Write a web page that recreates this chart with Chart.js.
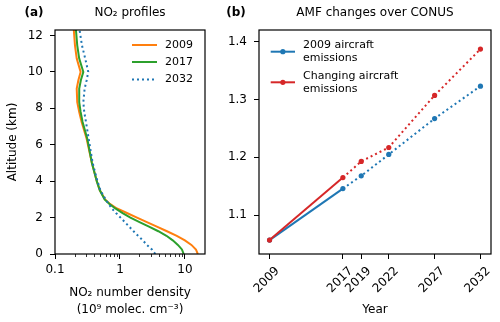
<!DOCTYPE html>
<html>
<head>
<meta charset="utf-8">
<script src="https://cdn.jsdelivr.net/npm/chart.js@4.4.1/dist/chart.umd.min.js"></script>
<style>
  html, body { margin: 0; padding: 0; background: #fff; }
  #wrap { position: relative; width: 500px; height: 322px; overflow: hidden; }
  #wrap canvas { position: absolute; top: 0; }
  #profileChart { left: 0; }
  #amfChart { left: 210px; }
</style>
</head>
<body>
<div id="wrap">
  <canvas id="profileChart" width="250" height="322"></canvas>
  <canvas id="amfChart" width="290" height="322"></canvas>
</div>
<script>
// (a) NO2 profiles: altitude (km) vs number density (1e9 molec/cm3)
const altitudes = [0, 0.25, 0.5, 0.75, 1, 1.25, 1.5, 1.75, 2, 2.25, 2.5, 2.75, 3, 3.5, 4, 5,
  6.33, 7.25, 7.8, 8.34, 9.08, 9.54, 10, 10.73, 11.46, 12.5];
const no2_2009 = [15.8, 14.8, 12.6, 10, 7.5, 5.3, 3.7, 2.6, 1.83, 1.28, 0.9, 0.7, 0.59, 0.49, 0.44, 0.37,
  0.307, 0.257, 0.236, 0.22, 0.216, 0.229, 0.248, 0.216, 0.203, 0.193];
const no2_2017 = [9.6, 9.0, 7.8, 6.5, 5.2, 3.9, 2.8, 2.0, 1.45, 1.1, 0.85, 0.69, 0.58, 0.49, 0.44, 0.37,
  0.314, 0.266, 0.248, 0.236, 0.236, 0.25, 0.273, 0.236, 0.22, 0.208];
const no2_2032 = [3.5, 3.1, 2.6, 2.25, 1.9, 1.62, 1.39, 1.19, 1.02, 0.87, 0.75, 0.67, 0.6, 0.5, 0.45, 0.38,
  0.33, 0.3, 0.282, 0.273, 0.286, 0.307, 0.325, 0.292, 0.26, 0.234];
const densityTicks = [0.1, 1, 10];
const densityTickLabels = ['0.1', '1', '10'];
const densityMinorTicks = [0.2, 0.3, 0.4, 0.5, 0.6, 0.7, 0.8, 0.9, 2, 3, 4, 5, 6, 7, 8, 9];
const altitudeTicks = [0, 2, 4, 6, 8, 10, 12];

// (b) AMF changes over CONUS
const years = [2009, 2017, 2019, 2022, 2027, 2032];
const amf2009Aircraft = [1.057, 1.146, 1.168, 1.205, 1.267, 1.323];
const amfChangingAircraft = [1.057, 1.165, 1.193, 1.217, 1.307, 1.387];
const amfTicks = [1.1, 1.2, 1.3, 1.4];
const amfTickLabels = ['1.1', '1.2', '1.3', '1.4'];

const FONT = "'DejaVu Sans', sans-serif";
const DOTS = [2, 3];

function toPoints(xs, ys) {
  return xs.map((x, i) => ({ x: x, y: ys[i] }));
}

// frame, panel title, legend and minor ticks drawn on top of the data
const panelPlugin = {
  id: 'panel',
  afterDatasetsDraw(chart, args, opts) {
    const ctx = chart.ctx;
    const a = chart.chartArea;
    ctx.save();
    ctx.strokeStyle = '#000';
    if (opts.minorTicks) {
      const sx = chart.scales.x;
      ctx.lineWidth = 0.8;
      opts.minorTicks.forEach(v => {
        const px = Math.round(sx.getPixelForValue(v)) + 0.5;
        ctx.beginPath();
        ctx.moveTo(px, a.bottom);
        ctx.lineTo(px, a.bottom + 3);
        ctx.stroke();
      });
    }
    ctx.lineWidth = 1.2;
    ctx.strokeRect(a.left, a.top, a.right - a.left, a.bottom - a.top);

    ctx.fillStyle = '#000';
    ctx.textBaseline = 'middle';
    ctx.textAlign = 'center';
    ctx.font = '12px ' + FONT;
    ctx.fillText(opts.title, (a.left + a.right) / 2, 13);
    ctx.font = 'bold 12px ' + FONT;
    ctx.fillText(opts.letter, opts.letterX, 13);

    // legend
    const lg = opts.legend;
    ctx.font = '11px ' + FONT;
    ctx.textAlign = 'left';
    chart.data.datasets.forEach((ds, i) => {
      const y = lg.rows[i];
      ctx.strokeStyle = ds.borderColor;
      ctx.lineWidth = ds.borderWidth;
      ctx.setLineDash(ds.borderDash || []);
      ctx.beginPath();
      ctx.moveTo(lg.x0, y);
      ctx.lineTo(lg.x1, y);
      ctx.stroke();
      ctx.setLineDash([]);
      if (ds.pointRadius > 0) {
        ctx.fillStyle = ds.borderColor;
        ctx.beginPath();
        ctx.arc((lg.x0 + lg.x1) / 2, y, ds.pointRadius, 0, Math.PI * 2);
        ctx.fill();
      }
      ctx.fillStyle = '#000';
      const lines = Array.isArray(ds.label) ? ds.label : [ds.label];
      lines.forEach((t, k) => {
        ctx.fillText(t, lg.textX, y - (lines.length - 1) * lg.gap / 2 + k * lg.gap);
      });
    });
    ctx.restore();
  }
};

function tickFont() { return { family: FONT, size: 12 }; }
function titleFont() { return { family: FONT, size: 12, lineHeight: 1.4 }; }

const profileChart = new Chart(document.getElementById('profileChart'), {
  type: 'line',
  data: {
    datasets: [
      { label: '2009', data: toPoints(no2_2009, altitudes), borderColor: '#ff7f0e', borderWidth: 2, pointRadius: 0, order: 2 },
      { label: '2017', data: toPoints(no2_2017, altitudes), borderColor: '#2ca02c', borderWidth: 2, pointRadius: 0, order: 1 },
      { label: '2032', data: toPoints(no2_2032, altitudes), borderColor: '#1f77b4', borderWidth: 2, borderDash: DOTS, pointRadius: 0, order: 0 }
    ]
  },
  options: {
    responsive: false,
    animation: false,
    layout: { padding: { top: 30, right: 45, left: 0, bottom: 0 } },
    plugins: {
      legend: { display: false },
      tooltip: { enabled: false },
      panel: {
        title: 'NO₂ profiles', letter: '(a)', letterX: 34,
        minorTicks: densityMinorTicks,
        legend: { x0: 132, x1: 157, textX: 165, rows: [45, 62, 79.5], gap: 13 }
      }
    },
    scales: {
      x: {
        type: 'logarithmic', min: 0.1, max: 20.4,
        afterBuildTicks: s => { s.ticks = densityTicks.map(v => ({ value: v })); },
        afterFit: s => { s.height = 68; },
        grid: { drawOnChartArea: false, tickLength: 5, tickColor: '#000', tickWidth: 1 },
        border: { display: false },
        ticks: { color: '#000', font: tickFont(), padding: 4, maxRotation: 0, autoSkip: false,
          callback: (v, i) => densityTickLabels[i] },
        title: { display: true, text: ['NO₂ number density', '(10⁹ molec. cm⁻³)'], color: '#000',
          font: titleFont(), padding: { top: 0, bottom: 4 } }
      },
      y: {
        type: 'linear', min: 0, max: 12.3,
        afterBuildTicks: s => { s.ticks = altitudeTicks.map(v => ({ value: v })); },
        afterFit: s => { s.width = 55; },
        grid: { drawOnChartArea: false, tickLength: 5, tickColor: '#000', tickWidth: 1 },
        border: { display: false },
        ticks: { color: '#000', font: tickFont(), padding: 7, callback: v => String(v) },
        title: { display: true, text: 'Altitude (km)', color: '#000', font: titleFont(), padding: { top: 4, bottom: 0 } }
      }
    }
  },
  plugins: [panelPlugin]
});

const solidUntil = 1; // index of 2017: solid before, dotted after
const amfChart = new Chart(document.getElementById('amfChart'), {
  type: 'line',
  data: {
    datasets: [
      { label: ['2009 aircraft', 'emissions'], data: toPoints(years, amf2009Aircraft), borderColor: '#1f77b4',
        backgroundColor: '#1f77b4', borderWidth: 2, pointRadius: 2.6, pointBorderWidth: 0, order: 1,
        segment: { borderDash: c => c.p0DataIndex >= solidUntil ? DOTS : undefined } },
      { label: ['Changing aircraft', 'emissions'], data: toPoints(years, amfChangingAircraft), borderColor: '#d62728',
        backgroundColor: '#d62728', borderWidth: 2, pointRadius: 2.6, pointBorderWidth: 0, order: 0,
        segment: { borderDash: c => c.p0DataIndex >= solidUntil ? DOTS : undefined } }
    ]
  },
  options: {
    responsive: false,
    animation: false,
    layout: { padding: { top: 30, right: 9, left: 0, bottom: 0 } },
    plugins: {
      legend: { display: false },
      tooltip: { enabled: false },
      panel: {
        title: 'AMF changes over CONUS', letter: '(b)', letterX: 26,
        legend: { x0: 60.7, x1: 85, textX: 93, rows: [51.7, 82.3], gap: 13 }
      }
    },
    scales: {
      x: {
        type: 'linear', min: 2007.85, max: 2033.15,
        afterBuildTicks: s => { s.ticks = years.map(v => ({ value: v })); },
        afterFit: s => { s.height = 68; },
        grid: { drawOnChartArea: false, tickLength: 5, tickColor: '#000', tickWidth: 1 },
        border: { display: false },
        ticks: { color: '#000', font: tickFont(), padding: 5, minRotation: 45, maxRotation: 45,
          labelOffset: 8, autoSkip: false, callback: v => String(v) },
        title: { display: true, text: 'Year', color: '#000', font: titleFont(), padding: { top: 0, bottom: 4 } }
      },
      y: {
        type: 'linear', min: 1.033, max: 1.42,
        afterBuildTicks: s => { s.ticks = amfTicks.map(v => ({ value: v })); },
        afterFit: s => { s.width = 49; },
        grid: { drawOnChartArea: false, tickLength: 5, tickColor: '#000', tickWidth: 1 },
        border: { display: false },
        ticks: { color: '#000', font: tickFont(), padding: 7, callback: (v, i) => amfTickLabels[i] }
      }
    }
  },
  plugins: [panelPlugin]
});
</script>
</body>
</html>
